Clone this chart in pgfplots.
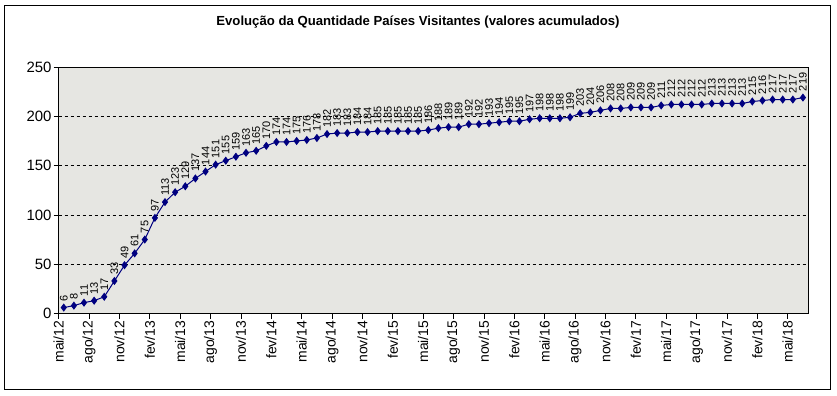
\documentclass[border=0pt]{standalone}
\usepackage{pgfplots}
\pgfplotsset{compat=1.18}
\usepackage{fontspec}
\setmainfont{Liberation Sans}
\definecolor{navyline}{RGB}{0,0,128}
\definecolor{plotbg}{RGB}{230,230,226}
\begin{document}
\begin{tikzpicture}[x=1bp,y=1bp]
\useasboundingbox[fill=white] (-58.7,-81.5) rectangle (778.3,313.5);
\draw[black, line width=1bp] (-53.7,-75.5) rectangle (771.3,308.5);
\node[font=\bfseries\fontsize{13.2}{15}\selectfont] at (359.3,291.5) {Evolução da Quantidade Países Visitantes (valores acumulados)};
\begin{axis}[at={(0,0)}, anchor=south west, scale only axis,
 width=749.3bp, height=246.5bp,
 /pgf/number format/assume math mode=true,
 xmin=-0.5, xmax=73.5, ymin=0, ymax=250,
 ytick={0,50,...,250},
 xtick={-0.5,2.5,...,71.5},
 xticklabels={mai/12,ago/12,nov/12,fev/13,mai/13,ago/13,nov/13,fev/14,mai/14,ago/14,nov/14,fev/15,mai/15,ago/15,nov/15,fev/16,mai/16,ago/16,nov/16,fev/17,mai/17,ago/17,nov/17,fev/18,mai/18},
 xticklabel style={rotate=90, anchor=east, font=\fontsize{14}{16}\selectfont, inner sep=2bp},
 yticklabel style={font=\fontsize{15}{17}\selectfont, inner sep=2bp},
 tick align=outside, major tick length=5bp,
 xtick pos=bottom, ytick pos=left,
 tick style={black, line width=0.8bp},
 ymajorgrids, grid style={dash pattern=on 3bp off 3bp, black, line width=0.7bp},
 axis background/.style={fill=plotbg},
 axis line style={black, line width=1bp},
 clip=false,
 nodes near coords,
 every node near coord/.append style={rotate=90, anchor=west, font=\fontsize{11}{12}\selectfont, color=black, inner xsep=6bp, inner ysep=0.5bp},
 nodes near coords align={anchor=west},
]
\addplot[color=navyline, line width=1bp, mark=diamond*, mark size=3.3bp, mark options={fill=navyline, draw=navyline}]
 coordinates {
(0,6)(1,8)(2,11)(3,13)(4,17)(5,33)(6,49)(7,61)(8,75)(9,97)
(10,113)(11,123)(12,129)(13,137)(14,144)(15,151)(16,155)(17,159)(18,163)(19,165)
(20,170)(21,174)(22,174)(23,175)(24,176)(25,178)(26,182)(27,183)(28,183)(29,184)
(30,184)(31,185)(32,185)(33,185)(34,185)(35,185)(36,186)(37,188)(38,189)(39,189)
(40,192)(41,192)(42,193)(43,194)(44,195)(45,195)(46,197)(47,198)(48,198)(49,198)
(50,199)(51,203)(52,204)(53,206)(54,208)(55,208)(56,209)(57,209)(58,209)(59,211)
(60,212)(61,212)(62,212)(63,212)(64,213)(65,213)(66,213)(67,213)(68,215)(69,216)
(70,217)(71,217)(72,217)(73,219)
};
\end{axis}
\end{tikzpicture}
\end{document}
